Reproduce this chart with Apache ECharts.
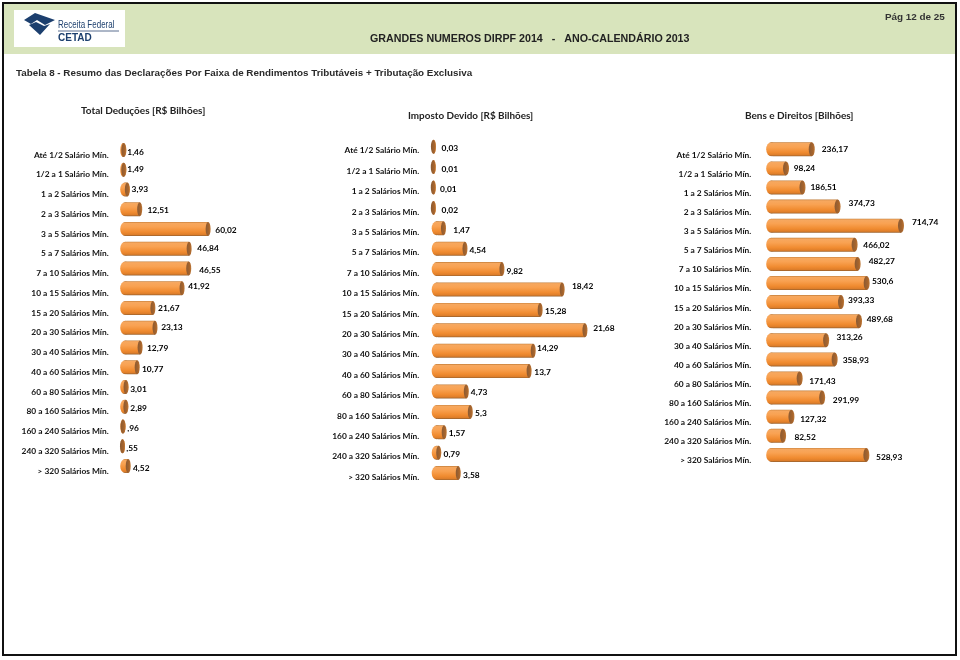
<!DOCTYPE html>
<html><head><meta charset="utf-8">
<style>html,body{margin:0;padding:0;background:#fff}#c{width:960px;height:660px}</style>
<script src="https://cdn.jsdelivr.net/npm/echarts@6/dist/echarts.min.js"></script>
</head><body><div id="c"></div>
<script>
var faixas = ['Até 1/2 Salário Mín.','1/2 a 1 Salário Mín.','1 a 2 Salários Mín.','2 a 3 Salários Mín.','3 a 5 Salários Mín.','5 a 7 Salários Mín.','7 a 10 Salários Mín.','10 a 15 Salários Mín.','15 a 20 Salários Mín.','20 a 30 Salários Mín.','30 a 40 Salários Mín.','40 a 60 Salários Mín.','60 a 80 Salários Mín.','80 a 160 Salários Mín.','160 a 240 Salários Mín.','240 a 320 Salários Mín.','> 320 Salários Mín.'];
var totalDeducoes = [1.46,1.49,3.93,12.51,60.02,46.84,46.55,41.92,21.67,23.13,12.79,10.77,3.01,2.89,0.96,0.55,4.52];
var impostoDevido = [0.03,0.01,0.01,0.02,1.47,4.54,9.82,18.42,15.28,21.68,14.29,13.7,4.73,5.3,1.57,0.79,3.58];
var bensDireitos = [236.17,98.24,186.51,374.73,714.74,466.02,482.27,530.6,393.33,489.68,313.26,358.93,171.43,291.99,127.32,82.52,528.93];

// hand-placed label nudges of the original, [dx, dy] from each bar end
var nudgeDeducoes = [[1,2.3],[1,0],[1.7,0],[5.3,1.3],[4.7,1.3],[5.7,0],[8,1.7],[3.7,-2],[2.7,0],[3.7,-0.7],[4.3,1],[2.3,2.3],[1.7,2],[2,2],[1.7,2.3],[1.3,2],[2.3,2.3]];
var nudgeImposto = [[5.7,2],[5.7,2.3],[4.3,2],[5.7,2],[7.3,2],[2,1.7],[2,2],[7.3,-3.7],[2.3,1.7],[5.7,-2],[1.3,-2],[2.7,1.3],[2,1],[2.3,1.3],[2,1.3],[2.3,1.7],[2.3,2]];
var nudgeBens = [[7,0],[4.7,0],[5,0],[8,-3],[8,-3.3],[5.7,0],[8,-2.7],[2.3,-1.3],[4,-1.7],[4.7,-1.7],[7.3,-3],[5,1.3],[6.7,2.3],[7.7,2.3],[5.7,2.3],[8.3,1.7],[6.7,2.7]];

var panels = [
  {values: totalDeducoes, nudge: nudgeDeducoes, left: 121.7, width: 144, max: 100, top: 140.1, rowH: 19.75, rx: 2.5, lift: 5, margin: 13, dropZero: true},
  {values: impostoDevido, nudge: nudgeImposto, left: 433.2, width: 175, max: 25, top: 136.5, rowH: 20.4, rx: 2.5, lift: 4, margin: 13.9, dropZero: false},
  {values: bensDireitos, nudge: nudgeBens, left: 767.7, width: 149.2, max: 800, top: 139.75, rowH: 19.1, rx: 3, lift: 5.7, margin: 16.4, dropZero: false}
];

var FONT = 'Lato';
var BAR_H = 14;
function bodyFill(){ return new echarts.graphic.LinearGradient(0,0,0,1,[
  {offset:0,color:'#c07a35'},{offset:.08,color:'#f6a860'},{offset:.35,color:'#f9a252'},
  {offset:.72,color:'#f08b30'},{offset:.9,color:'#de7e2a'},{offset:1,color:'#96602e'}]); }
var cap = new echarts.graphic.LinearGradient(0,0,1,0,[
  {offset:0,color:'#8a5a33'},{offset:.7,color:'#a8652c'},{offset:1,color:'#c07a38'}]);

function fmt(v, dropZero){
  var s = String(v).replace('.',',');
  return dropZero ? s.replace(/^0,/, ',') : s;
}

var grids=[], xAxes=[], yAxes=[], series=[];
panels.forEach(function(p,i){
  var slope = p.width/p.max;
  grids.push({left:p.left, top:p.top, width:p.width, height:p.rowH*17, containLabel:false});
  xAxes.push({type:'value', gridIndex:i, min:0, max:p.max, show:false});
  yAxes.push({type:'category', gridIndex:i, data:faixas, inverse:true,
    axisLine:{show:false}, axisTick:{show:false}, splitLine:{show:false},
    axisLabel:{interval:0, margin:p.margin, fontFamily:FONT, fontWeight:'bold', fontSize:8.4, color:'#111', align:'right',
      verticalAlign:'top', lineHeight:p.lift*2}});
  series.push({type:'pictorialBar', xAxisIndex:i, yAxisIndex:i, z:2, silent:true, barGap:'-100%',
    data:p.values.map(function(v){
      var r = Math.min(5, 2 + v*slope/2);
      return {value:v, symbolSize:[2*r,BAR_H], symbolOffset:[-1.5,0]};
    }), symbol:'circle', symbolPosition:'start', itemStyle:{color:bodyFill()}});
  series.push({type:'bar', xAxisIndex:i, yAxisIndex:i, z:3, silent:true, barWidth:BAR_H, barGap:'-100%',
    data:p.values, itemStyle:{color:bodyFill(), borderRadius:[5,0,0,5]},
    label:{show:true, position:'right', distance:0, fontFamily:FONT, fontWeight:'bold', fontSize:8.4, color:'#000',
      formatter:function(o){return fmt(o.value,p.dropZero);}}, 
    labelLayout:function(o){var n=p.nudge[o.dataIndex]; return {dx:n[0]+p.rx, dy:n[1]};}});
  series.push({type:'pictorialBar', xAxisIndex:i, yAxisIndex:i, z:4, silent:true,
    data:p.values, symbol:'circle', symbolSize:[p.rx*2,BAR_H], symbolPosition:'end', symbolOffset:['50%',0],
    itemStyle:{color:cap}});
});

function T(text,x,y,size,weight,family,color){
  return {text:text,left:x,top:y,padding:0,textStyle:{fontSize:size,fontWeight:weight,fontFamily:family,color:color||'#222'}};
}
var titles=[
  T('GRANDES NUMEROS DIRPF 2014   -   ANO-CALENDÁRIO 2013',370,33.5,10.7,'bold','Liberation Sans','#222'),
  T('Pág 12 de 25',885,12,9.9,'bold','Liberation Sans','#333'),
  T('Tabela 8 - Resumo das Declarações Por Faixa de Rendimentos Tributáveis + Tributação Exclusiva',16,68,9.83,'bold','Liberation Sans','#2a2a2a'),
  T('Total Deduções [R$ Bilhões]',81,105.5,10,'bold',FONT,'#222'),
  T('Imposto Devido [R$ Bilhões]',408,110.5,9.9,'bold',FONT,'#222'),
  T('Bens e Direitos [Bilhões]',745,110.5,10,'bold',FONT,'#222')
];

var chart = echarts.init(document.getElementById('c'),null,{renderer:'canvas'});
chart.setOption({
  animation:false, backgroundColor:'#fff',
  title:titles, grid:grids, xAxis:xAxes, yAxis:yAxes, series:series,
  graphic:[
    {type:'rect',silent:true,z:-10,shape:{x:4,y:4,width:951,height:50},style:{fill:'#d8e4bc'}},
    {type:'rect',silent:true,z:-9,shape:{x:14,y:10,width:111,height:37},style:{fill:'#fff'}},
    {type:'polygon',silent:true,z:-8,shape:{points:[[24,20],[35,13],[55,20],[45,25],[37,20],[31,24]]},style:{fill:'#1c3f6e'}},
    {type:'polygon',silent:true,z:-8,shape:{points:[[29,25],[36,22],[44,26],[50,24],[40,35]]},style:{fill:'#1c3f6e'}},
    {type:'text',silent:true,z:-8,x:58,y:19.5,scaleX:0.8,scaleY:1.05,style:{text:'Receita Federal',fontFamily:'Liberation Sans',fontSize:10,fill:'#1c3f6e'}},
    {type:'line',silent:true,z:-8,shape:{x1:58,y1:31,x2:119,y2:31},style:{stroke:'#5a6f90',lineWidth:1}},
    {type:'text',silent:true,z:-8,x:58,y:33.5,style:{text:'CETAD',fontFamily:'Liberation Sans',fontWeight:'bold',fontSize:10,fill:'#1c3f6e'}},
    {type:'rect',silent:true,z:100,shape:{x:3,y:3,width:953,height:652},style:{fill:'none',stroke:'#111',lineWidth:2}}
  ]
});
</script></body></html>
